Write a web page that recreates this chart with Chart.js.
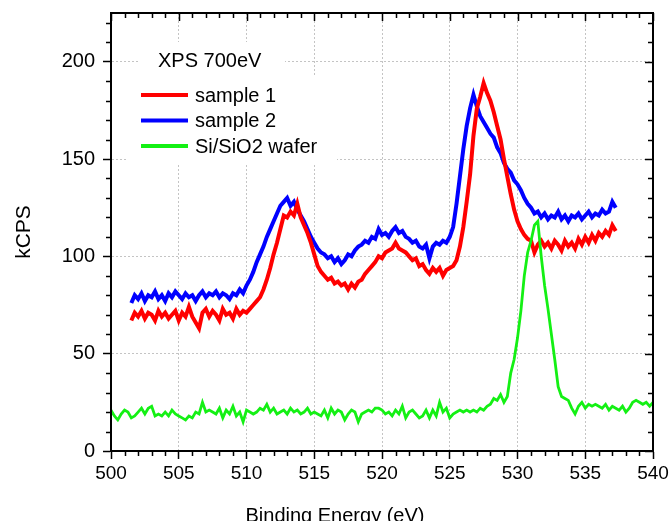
<!DOCTYPE html>
<html>
<head>
<meta charset="utf-8">
<script src="https://cdn.jsdelivr.net/npm/chart.js@4.4.0/dist/chart.umd.min.js"></script>
<style>
  html, body { margin: 0; padding: 0; background: #fff; }
</style>
</head>
<body>
<canvas id="xps" width="670" height="521"></canvas>
<script>
// energy grid of the scans (eV)
const sampleStart = 501.5;
const waferStart = 500;
const stepEv = 0.25;

const sample1 = [
  67, 71, 69, 72, 68, 71, 70, 67,
  72, 69, 71, 68, 70, 72, 67, 71,
  69, 74, 69, 66, 63, 71, 73, 69,
  72, 70, 67, 73, 70, 71, 68, 73,
  70, 72, 71, 73, 75, 77, 79, 83,
  88, 94, 101, 107, 114, 121, 120, 123,
  121, 127, 120, 116, 112, 107, 101, 95,
  92, 90, 88, 89, 86, 87, 85, 86,
  83, 86, 84, 87, 88, 91, 93, 95,
  97, 100, 99, 102, 103, 104, 107, 104,
  103, 102, 100, 98, 99, 95, 96, 93,
  91, 94, 92, 94, 90, 93, 94, 95,
  98, 105, 115, 128, 142, 162, 176, 182,
  189, 184, 180, 174, 167, 160, 150, 141,
  132, 124, 118, 114, 111, 109, 108, 102,
  106, 108, 105, 107, 104, 108, 106, 103,
  108, 105, 107, 104, 109, 106, 110, 107,
  111, 108, 112, 110, 113, 111, 116, 113
];

const sample2 = [
  76, 80, 78, 81, 77, 80, 79, 82,
  78, 80, 77, 81, 79, 82, 80, 78,
  81, 79, 80, 77, 80, 82, 79, 81,
  80, 82, 79, 81, 80, 78, 81, 80,
  83, 81, 85, 88, 92, 97, 101, 105,
  110, 114, 118, 122, 126, 128, 130, 126,
  128, 124, 121, 118, 114, 110, 107, 104,
  102, 101, 99, 100, 97, 99, 96, 98,
  101, 100, 103, 105, 106, 108, 107, 110,
  109, 114, 111, 112, 110, 113, 115, 112,
  113, 110, 109, 107, 108, 105, 104, 106,
  99, 105, 107, 106, 108, 107, 110, 115,
  127, 141, 155, 167, 176, 183, 177, 172,
  169, 166, 163, 161, 156, 153, 148, 145,
  143, 139, 137, 134, 130, 127, 125, 122,
  123, 120, 122, 119, 121, 120, 123, 119,
  121, 118, 121, 120, 122, 119, 121, 123,
  120, 122, 121, 124, 122, 123, 128, 125
];

const wafer = [
  21, 18, 16, 19, 21, 20, 17, 18,
  20, 22, 19, 22, 23, 18, 19, 18,
  20, 18, 21, 19, 18, 17, 16, 18,
  17, 20, 19, 25, 20, 21, 20, 19,
  22, 17, 21, 19, 23, 18, 20, 15,
  21, 20, 19, 20, 22, 21, 24, 20,
  22, 19, 20, 21, 19, 22, 20, 21,
  19, 20, 22, 19, 20, 19, 18, 21,
  17, 22, 19, 21, 20, 16, 19, 21,
  20, 15, 19, 20, 21, 20, 22, 22,
  21, 19, 20, 18, 21, 19, 23, 17,
  20, 21, 19, 17, 18, 21, 17, 21,
  18, 25, 20, 22, 17, 19, 20, 21,
  20, 21, 20, 21, 20, 22, 21, 23,
  24, 27, 26, 29, 25, 28, 40, 47,
  58, 72, 90, 102, 108, 116, 118, 100,
  85, 73, 60, 47, 33, 28, 27, 26,
  22, 19, 23, 25, 22, 24, 23, 24,
  23, 22, 24, 21, 23, 22, 21, 23,
  20, 22, 25, 26, 25, 24, 25, 23,
  25
];

const seriesLabels = ['sample 1', 'sample 2', 'Si/SiO2 wafer'];
const legendTitle = 'XPS 700eV';
const xTicks = [500, 505, 510, 515, 520, 525, 530, 535, 540];
const yTicks = [0, 50, 100, 150, 200];

const FONT = '"Liberation Sans", Arial, sans-serif';

function toPoints(start, values) {
  return values.map((v, i) => ({ x: start + i * stepEv, y: v }));
}

// frame, minor ticks and the boxed legend
const framePlugin = {
  id: 'framePlugin',
  beforeDatasetsDraw(chart) {
    const ctx = chart.ctx;
    ctx.save();
    ctx.fillStyle = '#fff';
    ctx.fillRect(138, 42, 147, 36);
    ctx.fillRect(127, 76, 210, 87);
    ctx.restore();
  },
  afterDraw(chart) {
    const { ctx, chartArea: a, scales } = chart;
    const x = scales.x, y = scales.y;
    ctx.save();
    ctx.strokeStyle = '#000';
    ctx.lineWidth = 1.5;
    ctx.beginPath();
    for (let e = 500; e <= 540; e++) {
      const px = Math.round(x.getPixelForValue(e)) + 0.5;
      const major = e % 5 === 0;
      const len = major ? 8 : 5;
      if (!major) { ctx.moveTo(px, a.bottom); ctx.lineTo(px, a.bottom + len); }
      ctx.moveTo(px, a.top); ctx.lineTo(px, a.top + len);
    }
    for (let v = 0; v <= 220; v += 10) {
      const py = Math.round(y.getPixelForValue(v)) + 0.5;
      const major = v % 50 === 0;
      const len = major ? 8 : 5;
      if (!major) { ctx.moveTo(a.left, py); ctx.lineTo(a.left - len, py); }
      ctx.moveTo(a.right, py); ctx.lineTo(a.right - len, py);
    }
    ctx.stroke();
    ctx.lineWidth = 2;
    ctx.strokeRect(a.left, a.top, a.right - a.left, a.bottom - a.top);

    // legend
    ctx.font = '20px ' + FONT;
    ctx.fillStyle = '#000';
    ctx.textBaseline = 'middle';
    ctx.fillText(legendTitle, 158, 61);
    chart.data.datasets.forEach((ds, i) => {
      const ly = 95 + i * 25.5;
      ctx.strokeStyle = ds.borderColor;
      ctx.lineWidth = 4;
      ctx.beginPath();
      ctx.moveTo(141, ly);
      ctx.lineTo(188, ly);
      ctx.stroke();
      ctx.fillText(ds.label, 195, ly + 1);
    });
    ctx.restore();
  }
};

new Chart(document.getElementById('xps'), {
  type: 'line',
  data: {
    datasets: [
      { label: seriesLabels[0], data: toPoints(sampleStart, sample1), borderColor: 'rgb(255, 0, 0)', borderWidth: 4, order: 1 },
      { label: seriesLabels[1], data: toPoints(sampleStart, sample2), borderColor: 'rgb(0, 0, 255)', borderWidth: 4, order: 2 },
      { label: seriesLabels[2], data: toPoints(waferStart, wafer), borderColor: 'rgb(20, 240, 20)', borderWidth: 2.8, order: 0 }
    ]
  },
  options: {
    responsive: false,
    animation: false,
    events: [],
    layout: { padding: { left: 0, right: 0, top: 13, bottom: 0 } },
    elements: { point: { radius: 0 }, line: { tension: 0 } },
    plugins: {
      legend: { display: false },
      tooltip: { enabled: false },
      title: {
        display: true,
        position: 'bottom',
        text: 'Binding Energy (eV)',
        color: '#000',
        font: { family: FONT, size: 20, weight: 'normal', lineHeight: 1 },
        padding: { top: 5, bottom: -5 }
      }
    },
    scales: {
      x: {
        type: 'linear',
        min: 500,
        max: 540,
        afterBuildTicks: s => { s.ticks = xTicks.map(v => ({ value: v })); },
        afterFit: s => { s.height = 50; s.paddingLeft = 0; s.paddingRight = 0; },
        ticks: { color: '#000', font: { family: FONT, size: 19 }, padding: 3, maxRotation: 0 },
        grid: { color: '#c4c4c4', lineWidth: 1, tickLength: 8, tickColor: '#000', tickWidth: 1.5 },
        border: { color: '#000', width: 2, dash: [2, 2] }
      },
      y: {
        type: 'linear',
        min: 0,
        max: 225,
        afterBuildTicks: s => { s.ticks = yTicks.map(v => ({ value: v })); },
        afterFit: s => { s.width = 111; s.paddingTop = 0; s.paddingBottom = 0; },
        ticks: { color: '#000', font: { family: FONT, size: 20 }, padding: 8 },
        grid: { color: '#c4c4c4', lineWidth: 1, tickLength: 8, tickColor: '#000', tickWidth: 1.5 },
        border: { color: '#000', width: 2, dash: [2, 2] },
        title: {
          display: true,
          text: 'kCPS',
          color: '#000',
          font: { family: FONT, size: 21 },
          padding: { top: 12, bottom: 0 }
        }
      },
      yRight: {
        type: 'linear',
        position: 'right',
        min: 0,
        max: 225,
        afterFit: s => { s.width = 17; s.paddingTop = 0; s.paddingBottom = 0; },
        ticks: { display: false },
        grid: { display: false, drawOnChartArea: false, drawTicks: false },
        border: { display: false }
      }
    }
  },
  plugins: [framePlugin]
});
</script>
</body>
</html>
